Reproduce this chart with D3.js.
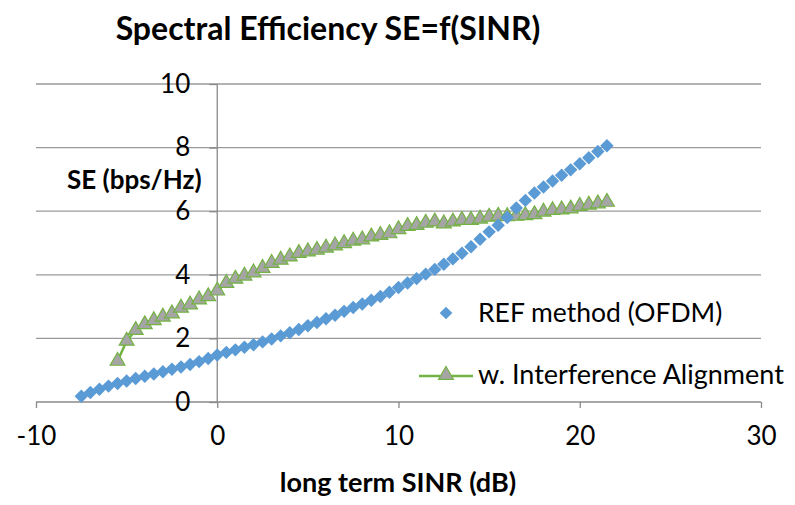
<!DOCTYPE html>
<html>
<head>
<meta charset="utf-8">
<script src="https://cdn.jsdelivr.net/npm/d3@7"></script>
<style>
  body { margin: 0; background: #fff; }
  text { font-family: Lato, "Noto Sans", sans-serif; fill: #000; }
</style>
</head>
<body>
<div id="chart"></div>
<script>
// data
var refSINR = [-7.5,-7,-6.5,-6,-5.5,-5,-4.5,-4,-3.5,-3,-2.5,-2,-1.5,-1,-0.5,0,0.5,1,1.5,2,2.5,3,3.5,4,4.5,5,5.5,6,6.5,7,7.5,8,8.5,9,9.5,10,10.5,11,11.5,12,12.5,13,13.5,14,14.5,15,15.5,16,16.5,17,17.5,18,18.5,19,19.5,20,20.5,21,21.5];
var refSE = [0.18,0.3,0.4,0.5,0.58,0.66,0.74,0.81,0.88,0.95,1.03,1.1,1.18,1.27,1.37,1.48,1.56,1.64,1.72,1.8,1.89,1.98,2.08,2.18,2.28,2.4,2.5,2.62,2.73,2.85,2.97,3.08,3.2,3.32,3.45,3.6,3.74,3.88,4.02,4.17,4.33,4.5,4.68,4.88,5.12,5.35,5.56,5.8,6.1,6.34,6.57,6.76,6.95,7.13,7.3,7.49,7.68,7.88,8.06];

var iaSINR = [-5.5,-5,-4.5,-4,-3.5,-3,-2.5,-2,-1.5,-1,-0.5,0,0.5,1,1.5,2,2.5,3,3.5,4,4.5,5,5.5,6,6.5,7,7.5,8,8.5,9,9.5,10,10.5,11,11.5,12,12.5,13,13.5,14,14.5,15,15.5,16,16.5,17,17.5,18,18.5,19,19.5,20,20.5,21,21.5];
var iaSE = [1.29,1.92,2.26,2.44,2.57,2.68,2.78,2.96,3.06,3.22,3.32,3.5,3.74,3.87,3.97,4.07,4.21,4.37,4.47,4.57,4.68,4.73,4.78,4.85,4.92,4.99,5.07,5.11,5.2,5.25,5.3,5.43,5.53,5.56,5.63,5.67,5.61,5.67,5.72,5.72,5.76,5.82,5.85,5.84,5.85,5.87,5.9,5.98,6.03,6.05,6.08,6.16,6.2,6.24,6.29];

var xTicks = [-10, 0, 10, 20, 30];
var yTicks = [0, 2, 4, 6, 8, 10];
var seriesNames = ["REF method (OFDM)", "w. Interference Alignment"];

var width = 795, height = 505;
var blue = "#5b9bd5", green = "#74b243", grey = "#a5a5a5";

var svg = d3.select("#chart").append("svg")
    .attr("width", width)
    .attr("height", height);

var x = d3.scaleLinear().domain([-10, 30]).range([36, 761]);
var y = d3.scaleLinear().domain([0, 10]).range([402, 84]);

// plain hyphen for negatives, like the original
var fmt = function(d) { return String(d); };

// horizontal gridlines
svg.append("g").selectAll("line")
    .data(yTicks.filter(function(d) { return d > 0; }))
  .enter().append("line")
    .attr("x1", x(-10)).attr("x2", x(30))
    .attr("y1", function(d) { return y(d); })
    .attr("y2", function(d) { return y(d); })
    .style("stroke", "#9a9a9a")
    .style("stroke-width", 1.3);

// x axis sits on y = 0
var xAxis = d3.axisBottom(x).tickValues(xTicks).tickSize(6).tickPadding(19).tickFormat(fmt);
var gx = svg.append("g")
    .attr("transform", "translate(0," + y(0) + ")")
    .call(xAxis);
gx.select(".domain").attr("d", "M" + x(-10) + ",0H" + x(30)).style("stroke", "#8a8a8a").style("stroke-width", 1.3);
gx.selectAll(".tick line").style("stroke", "#8a8a8a").style("stroke-width", 1.3);
gx.selectAll(".tick text").style("font-size", "26px").style("font-family", "Lato, sans-serif").attr("fill", "#000");

// y axis sits on x = 0
var yAxis = d3.axisLeft(y).tickValues(yTicks).tickSize(8).tickPadding(19).tickFormat(fmt);
var gy = svg.append("g")
    .attr("transform", "translate(" + x(0) + ",0)")
    .call(yAxis);
gy.select(".domain").attr("d", "M0," + y(10) + "V" + y(0)).style("stroke", "#8a8a8a").style("stroke-width", 1.3);
gy.selectAll(".tick line").style("stroke", "#8a8a8a").style("stroke-width", 1.3);
gy.selectAll(".tick text").style("font-size", "26px").style("font-family", "Lato, sans-serif").attr("fill", "#000");

// titles
svg.append("text")
    .attr("x", 328).attr("y", 40)
    .style("text-anchor", "middle")
    .style("font-size", "32px")
    .style("font-weight", "bold")
    .text("Spectral Efficiency SE=f(SINR)");

svg.append("text")
    .attr("x", 67).attr("y", 189)
    .style("font-size", "26px")
    .style("font-weight", "bold")
    .text("SE (bps/Hz)");

svg.append("text")
    .attr("x", 398).attr("y", 492)
    .style("text-anchor", "middle")
    .style("font-size", "27px")
    .style("font-weight", "bold")
    .text("long term SINR (dB)");

var diamond = d3.symbol().type(d3.symbolSquare).size(90);
var triangle = d3.symbol().type(d3.symbolTriangle).size(95);

// interference alignment series: line + triangles
var iaData = iaSINR.map(function(d, i) { return { x: d, y: iaSE[i] }; });
var line = d3.line()
    .x(function(d) { return x(d.x); })
    .y(function(d) { return y(d.y); });

svg.append("path")
    .datum(iaData)
    .attr("d", line)
    .style("fill", "none")
    .style("stroke", green)
    .style("stroke-width", 2.5);

svg.append("g").selectAll("path")
    .data(iaData)
  .enter().append("path")
    .attr("d", triangle)
    .attr("transform", function(d) { return "translate(" + x(d.x) + "," + y(d.y) + ")"; })
    .style("fill", grey)
    .style("stroke", green)
    .style("stroke-width", 1.2);

// REF series: diamonds only
var refData = refSINR.map(function(d, i) { return { x: d, y: refSE[i] }; });
svg.append("g").selectAll("path")
    .data(refData)
  .enter().append("path")
    .attr("d", diamond)
    .attr("transform", function(d) { return "translate(" + x(d.x) + "," + y(d.y) + ") rotate(45)"; })
    .style("fill", blue);

// legend
var legend = svg.append("g");
legend.append("path")
    .attr("d", d3.symbol().type(d3.symbolSquare).size(80))
    .attr("transform", "translate(446,313) rotate(45)")
    .style("fill", blue);
legend.append("text")
    .attr("x", 478).attr("y", 322)
    .style("font-size", "26.5px")
    .text(seriesNames[0]);

legend.append("line")
    .attr("x1", 419).attr("x2", 473)
    .attr("y1", 376).attr("y2", 376)
    .style("stroke", green)
    .style("stroke-width", 2.5);
legend.append("path")
    .attr("d", triangle)
    .attr("transform", "translate(446,375)")
    .style("fill", grey)
    .style("stroke", green)
    .style("stroke-width", 1.2);
legend.append("text")
    .attr("x", 478).attr("y", 384)
    .style("font-size", "27px")
    .text(seriesNames[1]);
</script>
</body>
</html>
